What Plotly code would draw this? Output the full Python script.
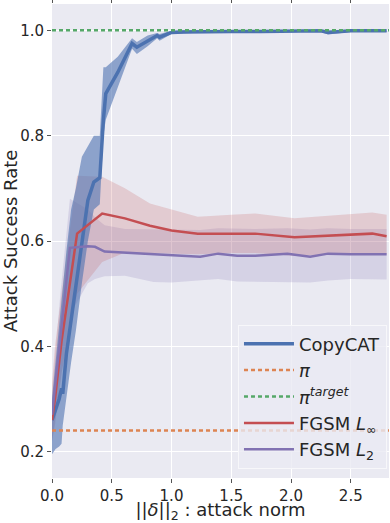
import plotly.graph_objects as go

# ---------------------------------- #
#               DATA                 #
# ---------------------------------- #

# CopyCAT mean + band
cc_x = [0.0, 0.03, 0.06, 0.08, 0.09, 0.12, 0.16, 0.20, 0.25, 0.30, 0.35, 0.40,
        0.43, 0.45, 0.55, 0.67, 0.71, 0.80, 0.88, 0.90, 1.0, 1.1, 1.25, 1.5,
        1.75, 2.0, 2.25, 2.31, 2.5, 2.8]
cc_y = [0.26, 0.28, 0.30, 0.32, 0.31, 0.385, 0.45, 0.52, 0.60, 0.677, 0.712, 0.72,
        0.83, 0.88, 0.92, 0.975, 0.968, 0.98, 0.99, 0.987, 0.996, 0.997, 0.998, 0.998,
        0.998, 0.999, 0.999, 0.996, 0.999, 0.999]
cc_hi = [0.30, 0.37, 0.45, 0.49, 0.52, 0.58, 0.66, 0.70, 0.76, 0.78, 0.80, 0.80,
         0.93, 0.93, 0.95, 0.985, 0.978, 0.99, 0.995, 0.993, 0.999, 1.0, 1.0, 1.0,
         1.0, 1.0, 1.0, 1.0, 1.0, 1.0]
cc_lo = [0.195, 0.205, 0.21, 0.215, 0.25, 0.30, 0.37, 0.43, 0.52, 0.60, 0.66, 0.67,
         0.80, 0.83, 0.89, 0.965, 0.955, 0.97, 0.985, 0.98, 0.993, 0.995, 0.996, 0.996,
         0.996, 0.997, 0.997, 0.992, 0.997, 0.997]

# FGSM L_inf
linf_x = [0.0, 0.025, 0.08, 0.21, 0.42, 0.61, 0.82, 1.0, 1.22, 1.5, 1.70, 2.03,
          2.31, 2.68, 2.8]
linf_y = [0.26, 0.30, 0.41, 0.614, 0.652, 0.643, 0.629, 0.62, 0.614, 0.614, 0.614,
          0.607, 0.610, 0.614, 0.609]
linf_hi = [0.33, 0.40, 0.50, 0.724, 0.722, 0.70, 0.671, 0.66, 0.646, 0.650, 0.652,
           0.643, 0.648, 0.654, 0.650]
linf_lo = [0.22, 0.25, 0.35, 0.50, 0.56, 0.578, 0.577, 0.576, 0.575, 0.577, 0.577,
           0.572, 0.574, 0.576, 0.575]

# FGSM L_2
l2_x = [0.0, 0.07, 0.15, 0.30, 0.36, 0.44, 0.61, 0.85, 1.0, 1.24, 1.39, 1.55,
        1.70, 1.97, 2.16, 2.31, 2.5, 2.8]
l2_y = [0.27, 0.416, 0.587, 0.59, 0.589, 0.58, 0.578, 0.574, 0.572, 0.570, 0.576,
        0.572, 0.572, 0.576, 0.570, 0.576, 0.575, 0.575]
l2_hi = [0.31, 0.50, 0.68, 0.66, 0.645, 0.63, 0.623, 0.622, 0.622, 0.621, 0.624,
         0.623, 0.623, 0.624, 0.622, 0.624, 0.623, 0.623]
l2_lo = [0.22, 0.33, 0.46, 0.52, 0.528, 0.533, 0.534, 0.522, 0.521, 0.525, 0.528,
         0.523, 0.523, 0.522, 0.521, 0.525, 0.528, 0.527]

# baselines
pi_val = 0.24
pi_target_val = 1.0
x_span = [0.0, 2.82]

x_ticks = [0.0, 0.5, 1.0, 1.5, 2.0, 2.5]
y_ticks = [0.2, 0.4, 0.6, 0.8, 1.0]

# ---------------------------------- #
#              STYLE                 #
# ---------------------------------- #

SET_FONT = 'DejaVu Sans'
BKG_COLOR = '#EAEAF2'
BLUE = '#4C72B0'
RED = '#C44E52'
PURPLE = '#8172B2'
GREEN = '#55A868'
ORANGE = '#DD8452'


def band(x, lo, hi, fill):
    return go.Scatter(x=x + x[::-1], y=hi + lo[::-1],
                      fill='toself', fillcolor=fill,
                      line=dict(width=0), mode='lines',
                      hoverinfo='skip', showlegend=False)


fig = go.Figure()

fig.add_trace(band(l2_x, l2_lo, l2_hi, 'rgba(129, 114, 178, 0.2)'))
fig.add_trace(band(linf_x, linf_lo, linf_hi, 'rgba(196, 78, 82, 0.2)'))
fig.add_trace(band(cc_x, cc_lo, cc_hi, 'rgba(76, 114, 176, 0.6)'))

fig.add_trace(go.Scatter(x=cc_x, y=cc_y, mode='lines', name='CopyCAT',
                         line=dict(color=BLUE, width=3.5)))
fig.add_trace(go.Scatter(x=x_span, y=[pi_val, pi_val], mode='lines',
                         name='<i>π</i>',
                         line=dict(color=ORANGE, width=2.5, dash='4px,3px')))
fig.add_trace(go.Scatter(x=x_span, y=[pi_target_val, pi_target_val], mode='lines',
                         name='<i>π<sup>target</sup></i>',
                         line=dict(color=GREEN, width=2.5, dash='4px,3px')))
fig.add_trace(go.Scatter(x=linf_x, y=linf_y, mode='lines',
                         name='FGSM <i>L</i><sub>∞</sub>',
                         line=dict(color=RED, width=2.5)))
fig.add_trace(go.Scatter(x=l2_x, y=l2_y, mode='lines',
                         name='FGSM <i>L</i><sub>2</sub>',
                         line=dict(color=PURPLE, width=2.5)))

fig.update_xaxes(range=[0, 2.82], automargin=False,
                 tickvals=x_ticks, tickformat='.1f',
                 showgrid=True, gridcolor='white', gridwidth=1,
                 zeroline=False, showline=False,
                 ticks='outside', ticklen=4, tickcolor='#555555', mirror='ticks',
                 tickfont=dict(size=15, color='#262626'),
                 title=dict(text='||<i>δ</i>||<sub>2</sub> : attack norm',
                            font=dict(size=18, color='#262626'), standoff=1))

fig.update_yaxes(range=[0.15, 1.05], automargin=False,
                 tickvals=y_ticks, tickformat='.1f',
                 showgrid=True, gridcolor='white', gridwidth=1,
                 zeroline=False, showline=False,
                 ticks='outside', ticklen=4, tickcolor='#555555', mirror='ticks',
                 tickfont=dict(size=15, color='#262626'),
                 title=dict(text='Attack Success Rate',
                            font=dict(size=18, color='#262626'), standoff=6))

fig.update_layout(
    width=390, height=523,
    plot_bgcolor=BKG_COLOR,
    paper_bgcolor='white',
    font_family=SET_FONT,
    margin=dict(l=52, r=1, t=4, b=45),
    legend=dict(x=0.994, y=0.02, xanchor='right', yanchor='bottom',
                bgcolor='rgba(234, 234, 242, 0.8)',
                bordercolor='#F7F7FA', borderwidth=1,
                font=dict(size=18, color='#262626'),
                itemwidth=50, tracegroupgap=0),
)

# page body has a default 8px margin; drop it so the figure sits at 0,0
fig.write_html("out.html", config={'displayModeBar': False},
               post_script="document.body.style.margin='0';")
